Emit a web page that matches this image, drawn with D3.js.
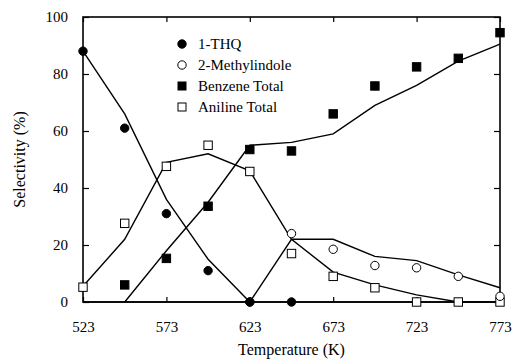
<!DOCTYPE html>
<html>
<head>
<meta charset="utf-8">
<script src="https://cdn.jsdelivr.net/npm/d3@7"></script>
<style>
  html, body { margin: 0; padding: 0; background: #fff; }
  svg { display: block; }
  text { font-family: "Liberation Serif", "DejaVu Serif", serif; fill: #000; }
</style>
</head>
<body>
<svg id="chart" width="512" height="360"></svg>
<script>
// Temperatures (K) at which selectivity was measured
const temps = [523, 548, 573, 598, 623, 648, 673, 698, 723, 748, 773];
const xTicks = [523, 573, 623, 673, 723, 773];
const yTicks = [0, 20, 40, 60, 80, 100];

// Measured selectivities (%), null where no point is drawn
const thqPts     = [88, 61, 31, 11, 0, 0, null, null, null, null, null];
const mindolePts = [null, null, null, null, 0, 24, 18.5, 12.8, 12, 9, 2];
const benzenePts = [null, 6, 15.3, 33.6, 53.5, 53, 66, 75.8, 82.5, 85.5, 94.5];
const anilinePts = [5.2, 27.6, 47.6, 55, 45.8, 17, 9, 5, 0, 0, 0];

// Model curves (%)
const thqFit     = [88, 66, 36, 15, 0, 0, 0, 0, 0, 0, 0];
const mindoleFit = [0, 0, 0, 0, 0, 22, 22, 16, 14.5, 9.5, 5];
const benzeneFit = [null, 0, 18, 35, 55, 56, 59, 69, 76, 84.5, 90.5];
const anilineFit = [5.5, 22, 49, 52, 46, 22, 10.5, 6, 2.5, 0, 0];

const legendNames = ["1-THQ", "2-Methylindole", "Benzene Total", "Aniline Total"];

const svg = d3.select("#chart");
const margin = { left: 83, right: 12, top: 17, bottom: 58 };
const W = 512, H = 360;

const x = d3.scaleLinear().domain([523, 773]).range([margin.left, W - margin.right]);
const y = d3.scaleLinear().domain([0, 100]).range([H - margin.bottom, margin.top]);

// Frame with inward ticks on all four sides
const g = svg.append("g");
g.append("g").attr("transform", `translate(0,${y(0)})`)
  .call(d3.axisBottom(x).tickValues(xTicks).tickSize(-5).tickPadding(19).tickFormat(d3.format("d")))
  .call(a => a.select(".domain").remove());
g.append("g").attr("transform", `translate(0,${y(100)})`)
  .call(d3.axisTop(x).tickValues(xTicks).tickSize(-5).tickFormat(""))
  .call(a => a.select(".domain").remove());
g.append("g").attr("transform", `translate(${x(523)},0)`)
  .call(d3.axisLeft(y).tickValues(yTicks).tickSize(-6).tickPadding(15))
  .call(a => a.select(".domain").remove());
g.append("g").attr("transform", `translate(${x(773)},0)`)
  .call(d3.axisRight(y).tickValues(yTicks).tickSize(-6).tickFormat(""))
  .call(a => a.select(".domain").remove());
g.selectAll(".tick line").attr("stroke", "#000").attr("stroke-width", 1.2);
g.selectAll(".tick text").attr("font-family", null).attr("font-size", null)
  .style("font-size", "15px").style("font-family", "'Liberation Serif', serif");

g.append("rect")
  .attr("x", x(523)).attr("y", y(100))
  .attr("width", x(773) - x(523)).attr("height", y(0) - y(100))
  .attr("fill", "none").attr("stroke", "#000").attr("stroke-width", 1.6);

// Axis titles
svg.append("text").attr("x", (x(523) + x(773)) / 2).attr("y", 355)
  .attr("text-anchor", "middle").style("font-size", "16px").text("Temperature (K)");
svg.append("text").attr("transform", `translate(25,${(y(0) + y(100)) / 2}) rotate(-90)`)
  .attr("text-anchor", "middle").style("font-size", "16px").text("Selectivity (%)");

// Curves
const line = d3.line().defined(d => d[1] !== null).x(d => x(d[0])).y(d => y(d[1]));
[thqFit, mindoleFit, benzeneFit, anilineFit].forEach(arr => {
  svg.append("path")
    .datum(temps.map((t, i) => [t, arr[i]]))
    .attr("d", line).attr("fill", "none").attr("stroke", "#000").attr("stroke-width", 1.4);
});

// Markers
function drawMarker(sel, kind) {
  if (kind === "circle-filled" || kind === "circle-open") {
    sel.append("circle").attr("r", 4.2)
      .attr("fill", kind === "circle-filled" ? "#000" : "#fff")
      .attr("stroke", "#000").attr("stroke-width", 1);
  } else {
    sel.append("rect").attr("x", -4.2).attr("y", -4.2).attr("width", 8.4).attr("height", 8.4)
      .attr("fill", kind === "square-filled" ? "#000" : "#fff")
      .attr("stroke", "#000").attr("stroke-width", 1);
  }
}
const kinds = ["circle-filled", "circle-open", "square-filled", "square-open"];
const seriesPts = [thqPts, mindolePts, benzenePts, anilinePts];
// squares go underneath so the filled circles on the baseline stay visible
[3, 2, 1, 0].forEach(k => {
  const pts = temps.map((t, i) => [t, seriesPts[k][i]]).filter(d => d[1] !== null);
  svg.append("g").selectAll("g").data(pts).join("g")
    .attr("transform", d => `translate(${x(d[0])},${y(d[1])})`)
    .each(function () { drawMarker(d3.select(this), kinds[k]); });
});

// Legend
const legend = svg.append("g").attr("transform", "translate(182,44)");
legendNames.forEach((name, i) => {
  const row = legend.append("g").attr("transform", `translate(0,${i * 21})`);
  const m = row.append("g");
  drawMarker(m, kinds[i]);
  if (i >= 2) m.select("rect").attr("x", -4).attr("y", -4).attr("width", 8).attr("height", 8);
  row.append("text").attr("x", 16).attr("y", 5).style("font-size", "15px").text(name);
});
</script>
</body>
</html>
